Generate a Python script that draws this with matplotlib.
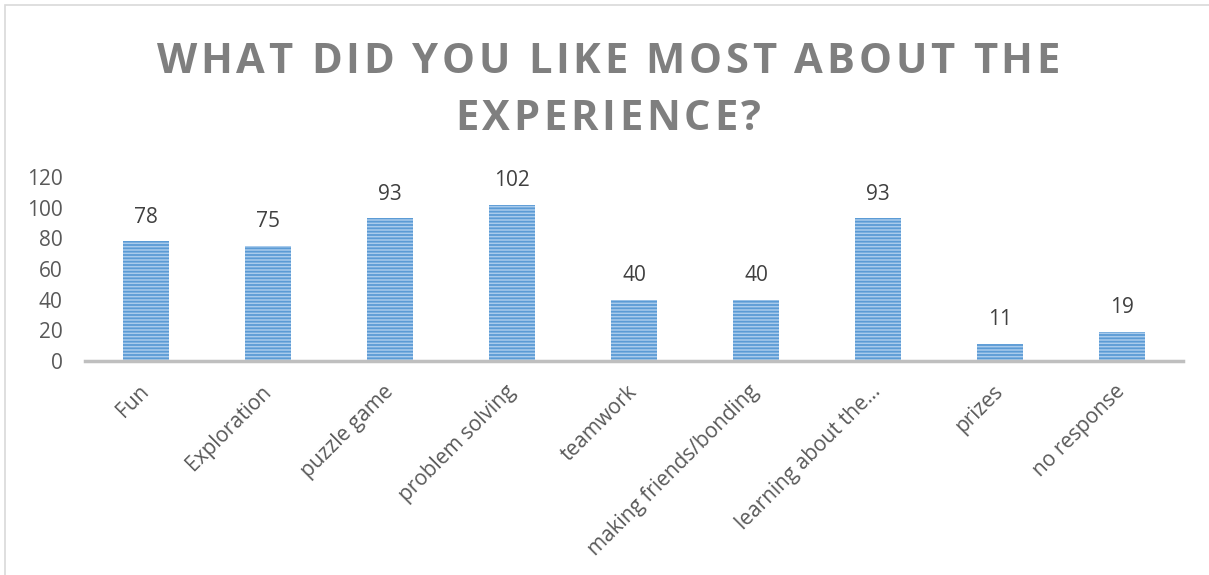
import matplotlib.pyplot as plt
from matplotlib.patches import Rectangle
from matplotlib import font_manager
from matplotlib.ft2font import FT2Font

categories = ["Fun", "Exploration", "puzzle game", "problem solving", "teamwork",
              "making friends/bonding", "learning about the…", "prizes", "no response"]
counts = [78, 75, 93, 102, 40, 40, 93, 11, 19]
y_ticks = [0, 20, 40, 60, 80, 100, 120]
title_lines = ["WHAT DID YOU LIKE MOST ABOUT THE", "EXPERIENCE?"]

plt.rcParams["font.family"] = ["Open Sans", "DejaVu Sans"]
plt.rcParams["hatch.linewidth"] = 1.3

W, H = 1209, 575
fig = plt.figure(figsize=(W / 100, H / 100), dpi=100)
ax = fig.add_axes([85 / W, 1 - 361 / H, 1098 / W, 184 / H])

# chart border
fig.patches.append(Rectangle((5 / W, -0.1), 1.2, 1 - 5 / H + 0.1, transform=fig.transFigure,
                             fill=False, edgecolor="#d9d9d9", linewidth=1.2))

x = range(len(categories))
ax.bar(x, counts, width=0.385, color="#a9cbec", edgecolor="#5b9bd5",
       hatch="-----", linewidth=0)

for xi, v in zip(x, counts):
    ax.text(xi, v + 9, str(v), ha="center", va="bottom", fontsize=15, color="#404040")

ax.set_xlim(-0.5, len(categories) - 0.5)
ax.set_ylim(0, 120)
ax.set_yticks(y_ticks)
ax.set_xticks(list(x))
ax.set_xticklabels(categories, rotation=45, ha="right", va="center", rotation_mode="anchor",
                   fontsize=15, color="#595959")
ax.tick_params(axis="y", length=0, labelsize=15, labelcolor="#595959", pad=16)
ax.tick_params(axis="x", length=0, pad=20)

for s in ["top", "right", "left"]:
    ax.spines[s].set_visible(False)
ax.spines["bottom"].set_color("#bfbfbf")
ax.spines["bottom"].set_linewidth(2.5)

# title with letter spacing, one glyph at a time
title_size = 30
fp = font_manager.FontProperties(family="Open Sans", weight="bold")
font = FT2Font(font_manager.findfont(fp))
font.set_size(title_size, 100)
spacing = 3.7
for line, base in zip(title_lines, [73, 130]):
    adv = []
    for c in line:
        g = font.load_char(ord(c))
        adv.append(g.linearHoriAdvance / 65536)
    total = sum(adv) + spacing * (len(line) - 1)
    px = 608 - total / 2
    for c, a in zip(line, adv):
        if c != " ":
            fig.text(px / W, 1 - base / H, c, ha="left", va="baseline",
                     fontsize=title_size, fontweight="bold", color="#7f7f7f")
        px += a + spacing

fig.savefig("out.png", dpi=100)
